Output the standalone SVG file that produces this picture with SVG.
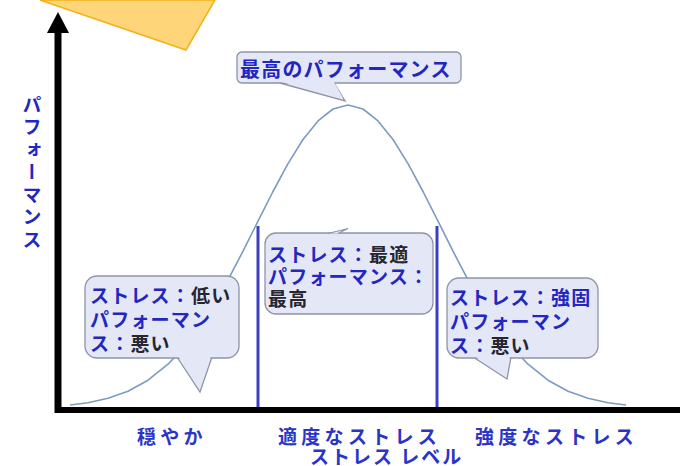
<svg xmlns="http://www.w3.org/2000/svg" width="680" height="466" viewBox="0 0 680 466">
<style>
text{font-family:"Noto Sans CJK JP","Noto Sans",sans-serif;font-weight:bold;}
.b{fill:#2326C0;}
.d{fill:#262630;}
.bub{fill:#E4E7F6;stroke:#8E94A8;stroke-width:1.3;}
.lbl{font-size:19px;letter-spacing:4.3px;fill:#2A34C6;}
.t19{font-size:19px;letter-spacing:1.2px;}
.vl{stroke:#3A3FC4;stroke-width:3;}
</style>
<rect x="0" y="0" width="680" height="466" fill="#ffffff"/>
<polygon points="40,0 186,50 215,0" fill="#FFD57A" stroke="#F3B01A" stroke-width="1.5"/>
<g id="connectors">
<polyline fill="none" stroke="#7B9BC0" stroke-width="1.6" stroke-linejoin="round" points="70,405 88,402.7 108,398.3 128,391.2 148,380.2 168,364.2 183,348.4 198,329 213,306 228,279.8 243,251.2 258,221.2 273,191.5 288,163.6 303,139.5 318,120.9 333,109 348,105 363,109 378,120.9 393,139.5 408,163.6 423,191.5 438,221.2 453,251.2 468,279.8 483,306 498,329 513,348.4 528,364.2 548,380.2 568,391.2 588,398.3 608,402.7 626,405"/>
<line class="vl" x1="258" y1="226" x2="258" y2="408"/>
<line class="vl" x1="437" y1="226" x2="437" y2="408"/>
<line x1="58" y1="28" x2="58" y2="413" stroke="#000" stroke-width="7"/>
<polygon points="58,12 47,33 69,33" fill="#000"/>
<line x1="55" y1="410" x2="680" y2="410" stroke="#000" stroke-width="6"/>
</g>
<g id="yaxis-label">
<text class="b" x="32" y="95" font-size="19" style="writing-mode:vertical-rl;letter-spacing:3.5px">パフォーマンス</text>
</g>
<g id="peak">
<polygon class="bub" points="280,83 345,101 334,83"/>
<rect class="bub" x="237" y="52" width="224" height="31" rx="5"/>
<polygon points="281,82 334,82 343,98" fill="#E4E7F6"/>
<text class="b" x="240" y="77" font-size="20" letter-spacing="1.2">最高のパフォーマンス</text>
</g>
<g id="optimal">
<rect class="bub" x="265" y="233" width="168" height="81" rx="11"/>
<polyline points="328,233.5 348,228.5 338,233.5" fill="#E4E7F6" stroke="#8E94A8" stroke-width="1.1"/>
<text class="t19" x="268" y="262"><tspan class="b">ストレス：</tspan><tspan class="d">最適</tspan></text>
<text class="t19 b" x="268" y="284">パフォーマンス：</text>
<text class="t19 d" x="268" y="306">最高</text>
</g>
<g id="low">
<polygon class="bub" points="177,357 200,392 212,357"/>
<rect class="bub" x="85" y="276" width="154" height="82" rx="12"/>
<polygon points="178,356 211,356 200,388" fill="#E4E7F6"/>
<text class="t19" x="90" y="303"><tspan class="b">ストレス：</tspan><tspan class="d">低い</tspan></text>
<text class="t19 b" x="90" y="327">パフォーマン</text>
<text class="t19" x="90" y="351"><tspan class="b">ス：</tspan><tspan class="d">悪い</tspan></text>
</g>
<g id="high">
<polygon class="bub" points="473,357 507,379 511,357"/>
<rect class="bub" x="447" y="278" width="151" height="80" rx="12"/>
<polygon points="474,356 510,356 506,376" fill="#E4E7F6"/>
<text class="t19 b" x="450" y="305">ストレス：強固</text>
<text class="t19 b" x="450" y="329">パフォーマン</text>
<text class="t19" x="450" y="353"><tspan class="b">ス：</tspan><tspan class="d">悪い</tspan></text>
</g>
<g id="xlabels">
<text class="lbl" x="137" y="444">穏やか</text>
<text class="lbl" x="278" y="444">適度なストレス</text>
<text class="lbl" x="475" y="444">強度なストレス</text>
<text class="lbl" x="310" y="464" style="letter-spacing:2px">ストレス レベル</text>
</g>
</svg>
